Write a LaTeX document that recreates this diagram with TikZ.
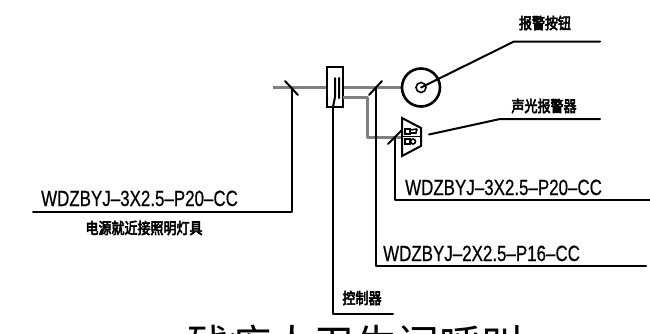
\documentclass[tikz,border=0pt]{standalone}
\usepackage{fontspec}
\setmainfont{Liberation Sans}[FakeBold=0.6]
\newfontfamily\cjk{Noto Sans CJK SC}[FakeBold=4]
\newfontfamily\cjkl{Noto Sans CJK SC}
\begin{document}
\begin{tikzpicture}[x=1pt,y=-1pt,
 wire/.style={line width=2pt,black,line cap=round,line join=round},
 bus/.style={line width=3.8pt,black!50},
 bus2/.style={line width=3pt,black!50,line join=round},
 lab/.style={inner sep=0,font=\fontsize{22}{22}\selectfont,xscale=.77},
 cn/.style={inner sep=0,font=\cjk\fontsize{13}{13}\selectfont,yscale=1.2}]
\useasboundingbox (0,0) rectangle (650,333);
\fill[white] (0,0) rectangle (650,333);
\coordinate (busL) at (273,87.5); \coordinate (busR) at (402,87.5);
\draw[bus] (busL) -- (busR);
\node[draw,line width=2pt,fill=white,minimum width=16pt,minimum height=40pt,inner sep=0] (ctl) at (335,87) {};
\coordinate (bR) at (343,97); \coordinate (bC) at (367.5,97); \coordinate (bD) at (367.5,137); \coordinate (bE) at (402,137);
\draw[bus2] (bR) -- (bC) -- (bD) -- (bE);
\draw[wire] (339,78) -- (339,98) (335,78) -- (335,97) -- (333,107);
% alarm button
\node[draw,circle,line width=2.6pt,minimum size=38pt,inner sep=0,fill=white] (btn) at (421,87.5) {};
\node[draw,circle,line width=1.6pt,minimum size=10pt,inner sep=0] (dot) at (421,87.5) {};
\coordinate (btnK) at (514,41.5); \coordinate (btnE) at (600,41.5);
\draw[wire] (btn.center) -- (btnK) -- (btnE);
% sounder
\coordinate (s1) at (402,118); \coordinate (s2) at (421,128); \coordinate (s3) at (421,146); \coordinate (s4) at (402,156);
\draw[line width=2pt,fill=white,line join=miter] (s1) -- (s2) -- (s3) -- (s4) -- cycle;
\draw[line width=1.4pt] (402,136.5) -- (421,136.5);
\draw[line width=1.6pt] (405,129) rectangle (410,134) (410,130) -- (417,129) (410,133) -- (416,133) -- (417,129);
\draw[line width=1.6pt] (405,139) rectangle (410,144);
\node[draw,circle,line width=1.6pt,minimum size=5pt,inner sep=0] (sc) at (413,141.5) {};
\coordinate (sK) at (500,119); \coordinate (sE) at (600,119); \coordinate (sS) at (429,134.5);
\draw[wire] (sS) -- (sK) -- (sE);
% ticks
\coordinate (t1a) at (285,81); \coordinate (t1b) at (298,95);
\coordinate (t2a) at (382,81); \coordinate (t2b) at (369,95);
\coordinate (t3a) at (402,130); \coordinate (t3b) at (388,144);
\draw[wire] (t1a) -- (t1b) (t2a) -- (t2b) (t3a) -- (t3b);
% leaders
\coordinate (L1a) at (292,88); \coordinate (L1b) at (292,212); \coordinate (L1c) at (33,212);
\draw[wire] (L1a) -- (L1b) -- (L1c);
\coordinate (L2a) at (333,107); \coordinate (L2b) at (333,314); \coordinate (L2c) at (393,314);
\draw[wire] (L2a) -- (L2b) -- (L2c);
\coordinate (L3a) at (376,88); \coordinate (L3b) at (376,266); \coordinate (L3c) at (646,266);
\draw[wire] (L3a) -- (L3b) -- (L3c);
\coordinate (L4a) at (395,137); \coordinate (L4b) at (395,200); \coordinate (L4c) at (650,200);
\draw[wire] (L4a) -- (L4b) -- (L4c);
% labels
\node[lab,anchor=base west] (w1) at (41,206) {WDZBYJ--3X2.5--P20--CC};
\node[lab,anchor=base west] (w2) at (405,195) {WDZBYJ--3X2.5--P20--CC};
\node[lab,anchor=base west] (w3) at (383,261) {WDZBYJ--2X2.5--P16--CC};
\node[cn] (c1) at (144,228) {电源就近接照明灯具};
\node[cn] (c2) at (545,23) {报警按钮};
\node[cn] (c3) at (544,106) {声光报警器};
\node[cn] (c4) at (362,298) {控制器};
\node[inner sep=0,anchor=base,font=\cjkl\fontsize{42}{42}\selectfont] (title) at (355,360) {残疾人卫生间呼叫};
\end{tikzpicture}
\end{document}
